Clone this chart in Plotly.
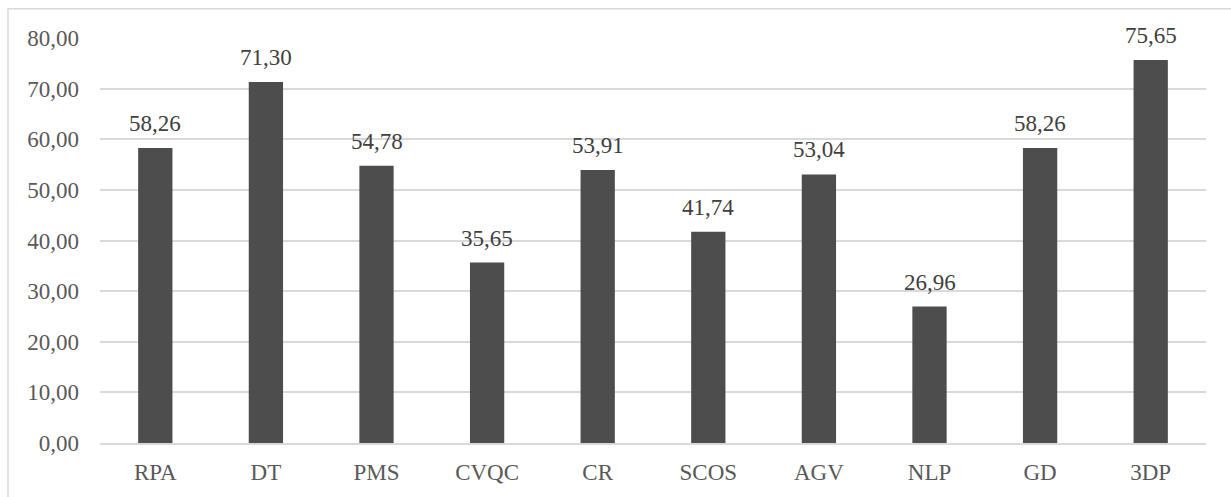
import plotly.graph_objects as go

categories = ["RPA", "DT", "PMS", "CVQC", "CR", "SCOS", "AGV", "NLP", "GD", "3DP"]
values = [58.26, 71.30, 54.78, 35.65, 53.91, 41.74, 53.04, 26.96, 58.26, 75.65]
y_ticks = [0, 10, 20, 30, 40, 50, 60, 70, 80]
y_tick_labels = [f"{v:.2f}".replace(".", ",") for v in y_ticks]
value_labels = [f"{v:.2f}".replace(".", ",") for v in values]

FONT = "Liberation Serif"
TEXT = "#595959"

W, H = 1231, 497
L, R, T, B = 100, 25, 38, 52

fig = go.Figure(
    go.Bar(
        x=categories,
        y=values,
        marker=dict(color="#4d4d4d", line=dict(width=0)),
        width=0.31,
        hoverinfo="x+y",
    )
)

# value labels above each bar
for c, v, lab in zip(categories, values, value_labels):
    fig.add_annotation(
        x=c, y=v, text=lab, showarrow=False,
        yanchor="bottom", yshift=10,
        font=dict(family=FONT, size=23, color="#404040"),
    )

# light frame around the whole chart
pw, ph = W - L - R, H - T - B
fig.add_shape(
    type="rect", xref="paper", yref="paper",
    x0=(8 - L) / pw, x1=(W + 5 - L) / pw,
    y0=-(H + 5 - (H - B)) / ph, y1=(H - B - 8.5) / ph,
    line=dict(color="#d9d9d9", width=1.5), fillcolor="rgba(0,0,0,0)",
    layer="below",
)

fig.update_layout(
    width=W, height=H,
    margin=dict(l=L, r=R, t=T, b=B),
    paper_bgcolor="white", plot_bgcolor="white",
    showlegend=False,
    font=dict(family=FONT, size=23, color=TEXT),
    xaxis=dict(
        showgrid=False, showline=True, linecolor="#d9d9d9", linewidth=1.5,
        ticks="", tickfont=dict(family=FONT, size=23, color=TEXT),
        ticklabelstandoff=8,
    ),
    yaxis=dict(
        range=[0, 80], tickvals=y_ticks, ticktext=y_tick_labels,
        showgrid=True, gridcolor="#d9d9d9", gridwidth=1.5,
        zeroline=False, showline=False, ticks="",
        tickfont=dict(family=FONT, size=23, color=TEXT),
        ticklabelstandoff=20,
    ),
)

fig.write_html("out.html")
